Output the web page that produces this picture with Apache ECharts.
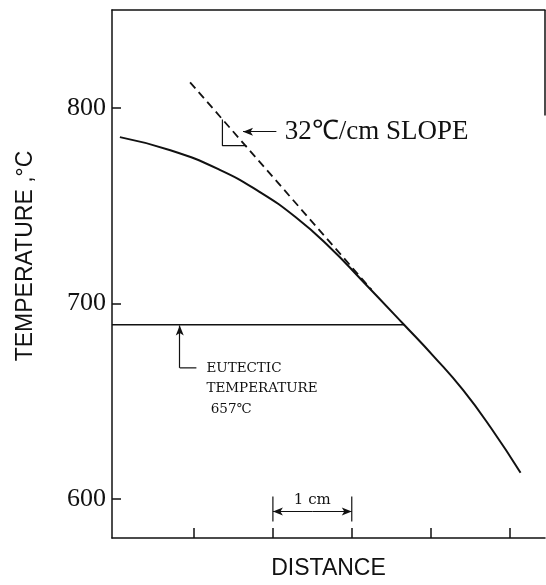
<!DOCTYPE html>
<html>
<head>
<meta charset="utf-8">
<script src="https://cdn.jsdelivr.net/npm/echarts@6/dist/echarts.min.js"></script>
<style>
  html, body { margin: 0; padding: 0; background: #fff; }
  #chart { width: 546px; height: 585px; }
</style>
</head>
<body>
<div id="chart"></div>
<script>
// temperature profile, distance in cm from the left axis
var curveX = [0.06, 0.70, 1.32, 1.83, 2.29, 2.72, 3.13, 3.66, 4.05, 4.41, 4.77, 5.14];
var curveY = [785, 778.3, 768.4, 757, 744, 728.7, 711.7, 689.2, 672.4, 655.7, 636, 613.4];
// tangent (dashed) line
var slopeX = [0.95, 3.25];
var slopeY = [813, 707];
// eutectic line
var eutecticY = 689;
var eutecticEndX = 3.67;
// ticks
var yTicks = [600, 700, 800];
var xTicks = [1, 2, 3, 4, 5];
// texts
var slopeText = '32℃/cm SLOPE';
var eutecticText = 'EUTECTIC\nTEMPERATURE\n 657℃';
var scaleText = '1 cm';
var yName = 'TEMPERATURE ,°C';
var xName = 'DISTANCE';

var INK = '#111';
var xMin = -0.04, xMax = 5.45, yMin = 580, yMax = 850;

function zip(xs, ys) {
  var out = [];
  for (var i = 0; i < xs.length; i++) out.push([xs[i], ys[i]]);
  return out;
}

function plainLine(data, width, type) {
  return {
    type: 'line',
    data: data,
    showSymbol: false,
    symbol: 'none',
    clip: false,
    silent: true,
    lineStyle: { color: INK, width: width, type: type || 'solid' }
  };
}

function arrow(from, to, both) {
  return [
    { coord: from, symbol: both ? 'arrow' : 'none' },
    { coord: to, symbol: 'arrow' }
  ];
}

var chart = echarts.init(document.getElementById('chart'));

var curveSeries = plainLine(zip(curveX, curveY), 2);
curveSeries.smooth = 0.5;

var dashSeries = plainLine(zip(slopeX, slopeY), 1.8, [8, 5]);

var eutecticSeries = plainLine([[xMin, eutecticY], [eutecticEndX, eutecticY]], 1.5);

// small right-angle mark under the tangent + leaders for the notes
var triangleSeries = plainLine([[1.36, 794], [1.36, 780.6], [1.664, 780.6]], 1.2);
var leaderSeries = plainLine([[1.03, 667], [0.819, 667]], 1.2);
var bracketL = plainLine([[2, 601.2], [2, 588.5]], 1.2);
var bracketR = plainLine([[3, 601.2], [3, 588.5]], 1.2);
var frameRight = plainLine([[xMax, yMax], [xMax, 796]], 1.5);

leaderSeries.markLine = {
  silent: true,
  animation: false,
  symbolSize: [6, 10],
  label: { show: false },
  lineStyle: { color: INK, width: 1.2, type: 'solid' },
  data: [
    arrow([0.819, 667], [0.819, eutecticY - 0.3]),
    arrow([2.044, 787.8], [1.621, 787.8]),
    arrow([2.5, 593.6], [3, 593.6]),
    arrow([2.5, 593.6], [2, 593.6])
  ]
};

var option = {
  animation: false,
  backgroundColor: '#fff',
  grid: { left: 112, right: 1, top: 10, bottom: 42 },
  xAxis: [{
    type: 'value',
    min: xMin,
    max: xMax,
    name: xName,
    nameLocation: 'middle',
    nameGap: 19,
    nameTextStyle: { fontFamily: 'Liberation Sans', fontSize: 23, color: INK },
    axisLine: { show: true, onZero: false, lineStyle: { color: INK, width: 1.5 } },
    axisTick: { show: true, inside: true, length: 10, customValues: xTicks, lineStyle: { color: INK, width: 1.5 } },
    axisLabel: { show: false },
    splitLine: { show: false }
  }, {
    type: 'value',
    position: 'top',
    min: xMin,
    max: xMax,
    axisLine: { show: true, onZero: false, lineStyle: { color: INK, width: 1.5 } },
    axisTick: { show: false },
    axisLabel: { show: false },
    splitLine: { show: false }
  }],
  yAxis: [{
    type: 'value',
    min: yMin,
    max: yMax,
    axisLine: { show: true, onZero: false, lineStyle: { color: INK, width: 1.5 } },
    axisTick: { show: true, inside: true, length: 9, customValues: yTicks, lineStyle: { color: INK, width: 1.5 } },
    axisLabel: { customValues: yTicks, fontFamily: 'Liberation Serif', fontSize: 26, color: INK, margin: 6 },
    splitLine: { show: false }
  }],
  series: [curveSeries, dashSeries, eutecticSeries, triangleSeries, leaderSeries,
    bracketL, bracketR, frameRight]
};
chart.setOption(option);

// notes are placed from data coordinates
function px(x, y) { return chart.convertToPixel({ gridIndex: 0 }, [x, y]); }
var pSlope = px(2.15, 787);
var pEut = px(1.157, 667);
var pScale = px(2.5, 599.6);

chart.setOption({
  graphic: [{
    type: 'text', left: pSlope[0], top: pSlope[1] - 15, silent: true,
    style: { text: slopeText, fontFamily: 'Liberation Serif', fontSize: 27, fill: INK }
  }, {
    type: 'text', left: pEut[0], top: pEut[1] - 10, silent: true,
    style: { text: eutecticText, fontFamily: 'DejaVu Serif', fontSize: 13.5, lineHeight: 20.5, fill: INK }
  }, {
    type: 'text', x: pScale[0], y: pScale[1], silent: true,
    style: { text: scaleText, fontFamily: 'DejaVu Serif', fontSize: 15, fill: INK, align: 'center', verticalAlign: 'middle' }
  }, {
    type: 'text', x: 26, y: 256, rotation: Math.PI / 2, silent: true,
    style: { text: yName, fontFamily: 'Liberation Sans', fontSize: 23, fill: INK, align: 'center', verticalAlign: 'middle' }
  }]
});
</script>
</body>
</html>
